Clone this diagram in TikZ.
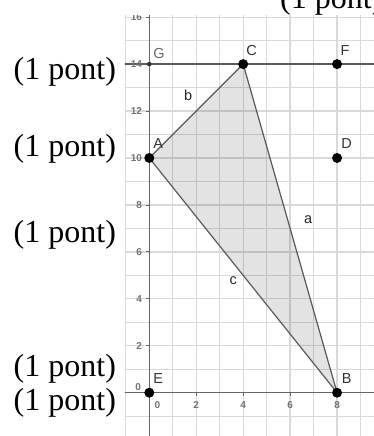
\documentclass[tikz,border=0pt]{standalone}
\usepackage{fontspec}
\setmainfont{Liberation Serif}
\newfontfamily\ggb{Liberation Sans}
\begin{document}
\begin{tikzpicture}[x=1pt,y=1pt,
  pont/.style={anchor=base west, inner sep=0pt, font=\fontsize{32}{38}\selectfont},
  gridline/.style={draw=black!15, line width=1.3pt},
  axisline/.style={draw=black!60, line width=1.2pt},
  edge/.style={draw=black!65, line width=1.2pt},
  bigpt/.style={fill=black},
  ptlabel/.style={inner sep=0pt, text=black!80, font=\ggb\fontsize{14.5}{15}\selectfont},
  seglabel/.style={inner sep=0pt, text=black!85, font=\ggb\fontsize{14.5}{15}\selectfont},
  axnum/.style={inner sep=0pt, text=black!55, font=\ggb\bfseries\fontsize{10}{11}\selectfont}]
\useasboundingbox (0,0) rectangle (374,436);
\fill[white] (0,0) rectangle (374,436);
% point-value labels
\node[pont] (p1) at (280,427) {(1 pont)};
\node[pont] (p2) at (13.5,356) {(1 pont)};
\node[pont] (p3) at (13.5,279.3) {(1 pont)};
\node[pont] (p4) at (13.5,193.3) {(1 pont)};
\node[pont] (p5) at (13.5,59.3) {(1 pont)};
\node[pont] (p6) at (13.5,25) {(1 pont)};
% graph
\begin{scope}[shift={(149.3,43.3)}, x=23.47pt, y=23.47pt]
\fill[white] (-1.04,-1.84) rectangle (9.57,16.05);
\begin{scope}
\clip (-1.04,-1.84) rectangle (9.57,16.05);
\foreach \i in {-1,...,9} \draw[gridline] (\i,-2) -- (\i,17);
\foreach \j in {-1,...,16} \draw[gridline] (-2,\j) -- (10,\j);
\coordinate (A) at (0,10);
\coordinate (B) at (8,0);
\coordinate (C) at (4,14);
\coordinate (D) at (8,10);
\coordinate (E) at (0,0);
\coordinate (F) at (8,14);
\coordinate (G) at (0,14);
\coordinate (Lw) at (-2,14);
\coordinate (Le) at (10,14);
\fill[black, fill opacity=0.11] (A) -- (B) -- (C) -- cycle;
\draw[axisline] (-2,0) -- (10,0);
\draw[axisline] (0,-2) -- (0,17);
\foreach \v in {2,4,...,16} \draw[axisline, line width=0.8pt] (0,\v) -- ++(-3pt,0);
\foreach \v in {2,4,6,8} \draw[axisline, line width=0.8pt] (\v,0) -- ++(0,-3pt);
\draw[edge, line width=1.3pt] (Lw) -- (Le);
\draw[edge] (A) -- (B) -- (C) -- cycle;
\foreach \v in {2,4,...,16} \node[axnum, anchor=east] at (-0.3,\v) {\v};
\node[axnum] at (-0.47,0.26) {0};
\node[axnum] at (0.34,-0.52) {0};
\foreach \v in {2,4,6,8} \node[axnum] at (\v,-0.52) {\v};
\foreach \p in {A,B,C,D,E,F} \fill[bigpt] (\p) circle (5pt);
\fill[black!80] (G) circle (2.3pt);
\node[ptlabel, text=black!60] (lG) at (0.41,14.47) {G};
\node[ptlabel] (lC) at (4.36,14.60) {C};
\node[ptlabel] (lF) at (8.34,14.60) {F};
\node[ptlabel] (lA) at (0.38,10.60) {A};
\node[ptlabel] (lD) at (8.41,10.63) {D};
\node[ptlabel] (lE) at (0.38,0.61) {E};
\node[ptlabel] (lB) at (8.41,0.61) {B};
\node[seglabel] (lb) at (1.66,12.65) {b};
\node[seglabel] (la) at (6.77,7.39) {a};
\node[seglabel] (lc) at (3.58,4.77) {c};
\end{scope}
\end{scope}
\end{tikzpicture}
\end{document}
